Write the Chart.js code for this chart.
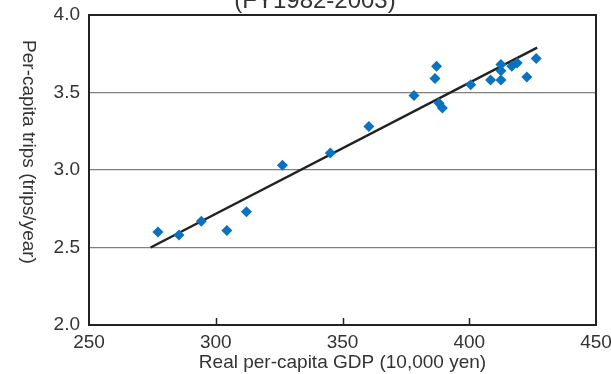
<!DOCTYPE html>
<html>
<head>
<meta charset="utf-8">
<script src="https://cdn.jsdelivr.net/npm/chart.js@4/dist/chart.umd.min.js"></script>
<style>
  html, body { margin: 0; padding: 0; background: #fff; }
  #wrap { width: 611px; height: 374px; }
</style>
</head>
<body>
<div id="wrap"><canvas id="scatterTrips" width="611" height="374"></canvas></div>
<script>
// Real per-capita GDP (10,000 yen) vs per-capita trips, FY1982-2003
const gdpValues = [277.2, 285.5, 294.3, 304.4, 312.1, 326.3, 345.2, 360.4, 378.2, 387.1, 386.5,
                   388.1, 389.4, 400.6, 408.4, 412.5, 412.5, 412.5, 416.8, 418.9, 422.7, 426.4];
const tripValues = [2.60, 2.58, 2.67, 2.61, 2.73, 3.03, 3.11, 3.28, 3.48, 3.67, 3.59,
                    3.43, 3.40, 3.55, 3.58, 3.68, 3.64, 3.58, 3.67, 3.69, 3.60, 3.72];
// fitted trend line end points
const trendGdp = [274.3, 426.8];
const trendTrips = [2.50, 3.79];

const xTicks = [250, 300, 350, 400, 450];
const yTicks = [2.0, 2.5, 3.0, 3.5, 4.0];

const chartTitle = "(FY1982-2003)";
const xTitle = "Real per-capita GDP (10,000 yen)";
const yTitle = "Per-capita trips (trips/year)";

const textColor = "#333";
const fontFamily = "'Liberation Sans', Arial, sans-serif";

const points = gdpValues.map((g, i) => ({ x: g, y: tripValues[i] }));
const trend = trendGdp.map((g, i) => ({ x: g, y: trendTrips[i] }));

// labels hanging past the plot edges should not shrink the plot
function noEdgePadding(s) {
    s.paddingTop = 0;
    s.paddingBottom = 0;
    s.paddingLeft = 0;
    s.paddingRight = 0;
}

// box, inward tick marks, rotated y title and the clipped top title
const decorPlugin = {
    id: "decor",
    beforeDatasetsDraw(chart) {
        const { ctx, chartArea: a, scales } = chart;
        ctx.save();
        ctx.strokeStyle = "#222";
        ctx.lineWidth = 1.5;
        scales.x.ticks.forEach(t => {
            if (t.value === xTicks[0] || t.value === xTicks[xTicks.length - 1]) return;
            const px = Math.round(scales.x.getPixelForValue(t.value)) + 0.5;
            ctx.beginPath();
            ctx.moveTo(px, a.bottom);
            ctx.lineTo(px, a.bottom - 7);
            ctx.stroke();
        });
        ctx.restore();
    },
    afterDraw(chart) {
        const { ctx, chartArea: a } = chart;
        ctx.save();
        ctx.strokeStyle = "#222";
        ctx.lineWidth = 2;
        ctx.strokeRect(a.left, a.top, a.right - a.left, a.bottom - a.top);

        ctx.fillStyle = textColor;
        ctx.font = "19px " + fontFamily;
        ctx.textAlign = "center";
        ctx.textBaseline = "middle";
        ctx.translate(28, 152);
        ctx.rotate(Math.PI / 2);
        ctx.fillText(yTitle, 0, 0);
        ctx.restore();

        ctx.save();
        ctx.fillStyle = textColor;
        ctx.font = "24px " + fontFamily;
        ctx.textAlign = "center";
        ctx.textBaseline = "alphabetic";
        ctx.fillText(chartTitle, 315, 7.5);
        ctx.restore();
    }
};

const ctx = document.getElementById("scatterTrips").getContext("2d");

new Chart(ctx, {
    type: "scatter",
    data: {
        datasets: [
            {
                label: "Trips",
                data: points,
                pointStyle: "rectRot",
                pointRadius: 5.5,
                pointHoverRadius: 5.5,
                backgroundColor: "#0a72c0",
                borderWidth: 0,
                order: 1
            },
            {
                type: "line",
                label: "Trend",
                data: trend,
                borderColor: "#222",
                borderWidth: 2.5,
                pointRadius: 0,
                fill: false,
                order: 2
            }
        ]
    },
    options: {
        responsive: false,
        animation: false,
        layout: { padding: { top: 15, right: 15, left: 0, bottom: 0 } },
        plugins: {
            legend: { display: false },
            tooltip: { enabled: false }
        },
        scales: {
            x: {
                type: "linear",
                min: xTicks[0],
                max: xTicks[xTicks.length - 1],
                afterBuildTicks: s => { s.ticks = xTicks.map(v => ({ value: v })); },
                afterFit: s => { s.height = 49; noEdgePadding(s); },
                grid: { display: false, drawTicks: false },
                border: { display: false },
                ticks: {
                    color: textColor,
                    font: { family: fontFamily, size: 19 },
                    padding: 6,
                    maxRotation: 0
                },
                title: {
                    display: true,
                    text: xTitle,
                    color: textColor,
                    font: { family: fontFamily, size: 19 },
                    padding: { top: 0, bottom: 0 }
                }
            },
            y: {
                type: "linear",
                min: yTicks[0],
                max: yTicks[yTicks.length - 1],
                afterBuildTicks: s => { s.ticks = yTicks.map(v => ({ value: v })); },
                afterFit: s => { s.width = 89; noEdgePadding(s); },
                grid: { color: "#808080", lineWidth: 1.2, drawTicks: false },
                border: { display: false },
                ticks: {
                    color: textColor,
                    font: { family: fontFamily, size: 19 },
                    padding: 9,
                    callback: v => Number(v).toFixed(1)
                }
            }
        }
    },
    plugins: [decorPlugin]
});
</script>
</body>
</html>
